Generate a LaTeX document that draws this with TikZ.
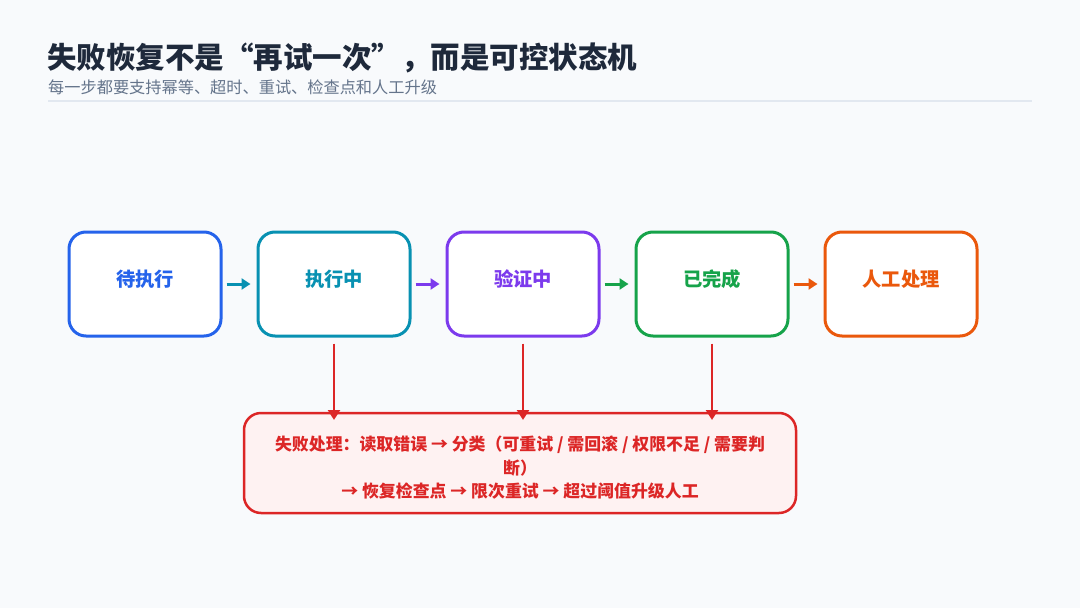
\documentclass[tikz,border=0pt]{standalone}
\usepackage{fontspec}
\setmainfont{Noto Sans CJK SC}
\usetikzlibrary{arrows.meta}
\definecolor{bg}{HTML}{F8FAFC}
\definecolor{titlec}{HTML}{1E293B}
\definecolor{subc}{HTML}{64748B}
\definecolor{rulec}{HTML}{E2E8F0}
\definecolor{cblue}{HTML}{2563EB}
\definecolor{cteal}{HTML}{0891B2}
\definecolor{cpurple}{HTML}{7C3AED}
\definecolor{cgreen}{HTML}{16A34A}
\definecolor{corange}{HTML}{EA580C}
\definecolor{cred}{HTML}{DC2626}
\definecolor{redfill}{HTML}{FEF2F2}
\tikzset{
  statebox/.style={draw=#1, line width=3pt, rounded corners=17pt, fill=white,
    minimum width=152pt, minimum height=104pt, inner sep=0pt},
  statelabel/.style={text=#1, font=\fontsize{19.3}{23}\selectfont\bfseries},
  flow/.style={draw=#1, line width=3pt, -{Triangle[length=9pt,width=11pt]}},
  failarrow/.style={draw=cred, line width=2.8pt, -{Triangle[length=10pt,width=12pt]}},
}
\begin{document}
\begin{tikzpicture}[x=1pt,y=-1pt]
\fill[bg] (0,0) rectangle (1080,608);
\useasboundingbox (0,0) rectangle (1080,608);
% title
\node[anchor=west, text=titlec, font=\fontsize{29.5}{33}\selectfont\bfseries, inner sep=0pt] (title) at (47,58) {失败恢复不是“再试一次”，而是可控状态机};
\node[anchor=west, text=subc, font=\fontsize{16.2}{19}\selectfont, inner sep=0pt] (sub) at (48,87) {每一步都要支持幂等、超时、重试、检查点和人工升级};
\draw[rulec, line width=1.5pt] (48,101) -- (1032,101);
% boxes
\node[statebox=cblue] (b1) at (145,284) {};
\node[statebox=cteal] (b2) at (334,284) {};
\node[statebox=cpurple] (b3) at (523,284) {};
\node[statebox=cgreen] (b4) at (712,284) {};
\node[statebox=corange] (b5) at (901,284) {};
\node[statelabel=cblue] (t1) at (145,279) {待执行};
\node[statelabel=cteal] (t2) at (334,279) {执行中};
\node[statelabel=cpurple] (t3) at (523,279) {验证中};
\node[statelabel=cgreen] (t4) at (712,279) {已完成};
\node[statelabel=corange] (t5) at (901,279) {人工处理};
% flow arrows
\draw[flow=cteal] ([xshift=4pt]b1.east) -- ([xshift=-6pt]b2.west);
\draw[flow=cpurple] ([xshift=4pt]b2.east) -- ([xshift=-6pt]b3.west);
\draw[flow=cgreen] ([xshift=4pt]b3.east) -- ([xshift=-6pt]b4.west);
\draw[flow=corange] ([xshift=4pt]b4.east) -- ([xshift=-6pt]b5.west);
% failure box
\node[draw=cred, fill=redfill, line width=2.5pt, rounded corners=17pt,
  minimum width=552pt, minimum height=100pt, inner sep=0pt] (fail) at (520,463) {};
\node[text=cred, align=center, font=\fontsize{16.9}{23.5}\selectfont\bfseries] (failtext) at (520,468)
  {失败处理：读取错误 → 分类（可重试 / 需回滚 / 权限不足 / 需要判\\断）\\→ 恢复检查点 → 限次重试 → 超过阈值升级人工};
% failure arrows
\coordinate (f2) at (334,413);
\coordinate (f3) at (523,413);
\coordinate (f4) at (712,413);
\draw[failarrow] ([yshift=-6pt]b2.south) -- ([yshift=-7pt]f2);
\draw[failarrow] ([yshift=-6pt]b3.south) -- ([yshift=-7pt]f3);
\draw[failarrow] ([yshift=-6pt]b4.south) -- ([yshift=-7pt]f4);
\end{tikzpicture}
\end{document}
